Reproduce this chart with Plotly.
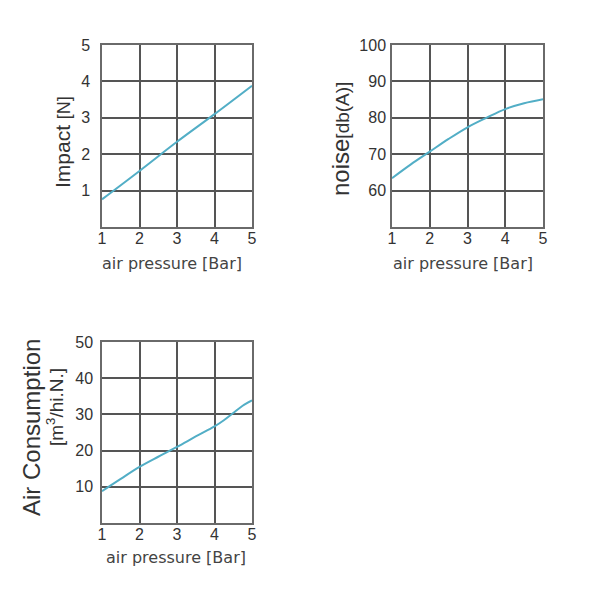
import plotly.graph_objects as go

# ---- data ----
impact_p = [1, 2, 3, 4, 5]
impact_v = [0.76, 1.54, 2.34, 3.1, 3.88]

noise_p = [1, 1.5, 2, 2.5, 3, 3.5, 4, 4.5, 5]
noise_v = [63.4, 67.2, 70.7, 74.2, 77.4, 80.0, 82.4, 84.0, 85.1]

air_p = [1, 1.5, 2, 2.5, 3, 3.5, 4, 4.25, 4.5, 4.75, 5]
air_v = [8.8, 12.2, 15.5, 18.3, 21.0, 23.9, 26.7, 28.4, 30.4, 32.4, 33.9]

x_ticks = [1, 2, 3, 4, 5]
impact_ticks = [1, 2, 3, 4, 5]
noise_ticks = [60, 70, 80, 90, 100]
air_ticks = [10, 20, 30, 40, 50]

W = H = 600
LINE_COLOR = "#52aec6"
GRID = "#555555"
FONT = "Liberation Sans"
FONT2 = "DejaVu Sans"

fig = go.Figure()
for xs, ys, xa, ya in [(impact_p, impact_v, "x", "y"),
                       (noise_p, noise_v, "x2", "y2"),
                       (air_p, air_v, "x3", "y3")]:
    fig.add_trace(go.Scatter(x=xs, y=ys, mode="lines",
                             line=dict(color=LINE_COLOR, width=2, shape="spline"),
                             xaxis=xa, yaxis=ya, hoverinfo="skip"))


def px_x(p):
    return p / W


def px_y(p):
    return 1 - p / H


def common():
    return dict(showgrid=True, gridcolor=GRID, gridwidth=1.5,
                showline=True, linecolor="#6a6a6a", linewidth=1.5, mirror=True,
                zeroline=False, ticks="", fixedrange=True, automargin=False,
                tickfont=dict(size=16, color="#333333", family=FONT))


def xax(dom, anchor):
    d = common()
    d.update(domain=dom, anchor=anchor, range=[1, 5], tickvals=x_ticks,
             ticklabelstandoff=-4)
    return d


def yax(dom, anchor, rng, tv, standoff):
    d = common()
    d.update(domain=dom, anchor=anchor, range=rng, tickvals=tv,
             ticklabelstandoff=standoff)
    return d


fig.update_layout(
    width=W, height=H, margin=dict(l=0, r=0, t=0, b=0, autoexpand=False),
    paper_bgcolor="white", plot_bgcolor="white", showlegend=False,
    xaxis=xax([px_x(102), px_x(252)], "y"),
    yaxis=yax([px_y(227), px_y(45)], "x", [0, 5], impact_ticks, 7),
    xaxis2=xax([px_x(392), px_x(543)], "y2"),
    yaxis2=yax([px_y(227), px_y(45)], "x2", [50, 100], noise_ticks, 1),
    xaxis3=xax([px_x(102), px_x(252)], "y3"),
    yaxis3=yax([px_y(523), px_y(342)], "x3", [0, 50], air_ticks, 4),
)

ann = []


def a(text, x, y, size, angle=0, color="#333333", family=FONT):
    ann.append(dict(text=text, x=px_x(x), y=px_y(y), xref="paper", yref="paper",
                    showarrow=False, textangle=angle, xanchor="center", yanchor="middle",
                    font=dict(size=size, color=color, family=family)))


a("air pressure [Bar]", 172, 264, 16, color="#444444", family=FONT2)
a("air pressure [Bar]", 463, 264, 16, color="#444444", family=FONT2)
a("air pressure [Bar]", 176, 557, 16, color="#444444", family=FONT2)
a('Impact <span style="font-size:18px">[N]</span>', 62, 142, 21, angle=-90)
a('noise<span style="font-size:19px">[db(A)]</span>', 340, 139, 24, angle=-90)
a("Air Consumption", 31, 428, 24, angle=-90)
a("[m<sup>3</sup>/hi.N.]", 55, 407, 19, angle=-90)
fig.update_layout(annotations=ann)

fig.write_html("out.html")
